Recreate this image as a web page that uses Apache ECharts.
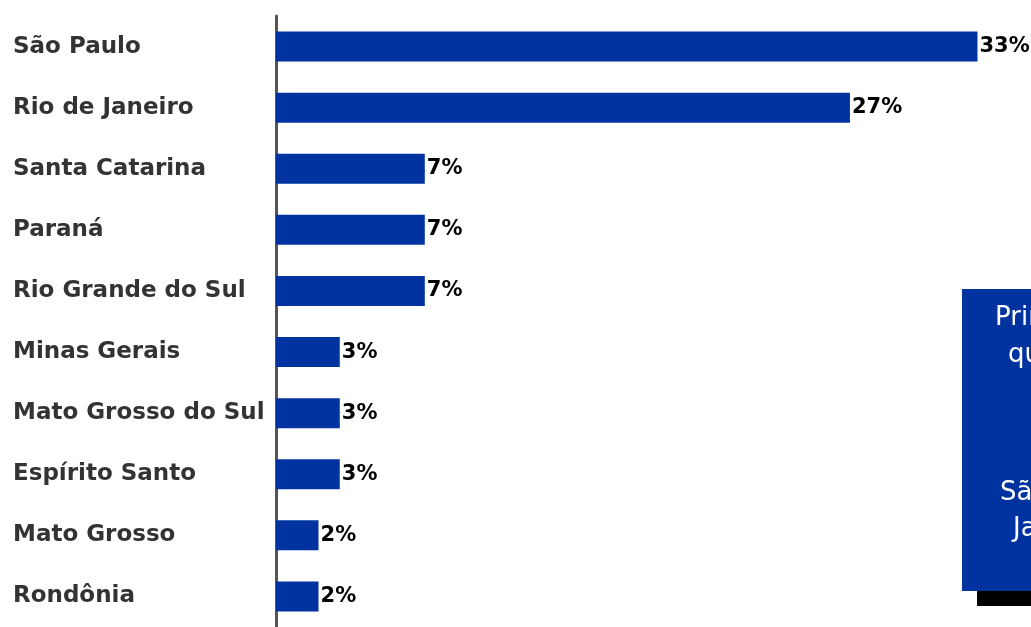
<!DOCTYPE html>
<html>
<head>
<meta charset="utf-8">
<script src="https://cdn.jsdelivr.net/npm/echarts@6/dist/echarts.min.js"></script>
<style>
  html, body { margin: 0; padding: 0; background: #ffffff; }
  #chart { width: 1031px; height: 627px; }
</style>
</head>
<body>
<div id="chart"></div>
<script>
// Share of buyers by state (percent)
const states = [
  'São Paulo', 'Rio de Janeiro', 'Santa Catarina', 'Paraná', 'Rio Grande do Sul',
  'Minas Gerais', 'Mato Grosso do Sul', 'Espírito Santo', 'Mato Grosso', 'Rondônia'
];
const shares = [33, 27, 7, 7, 7, 3, 3, 3, 2, 2];

// Callout text lines on the right-hand panel
const calloutLines = ['Principais estados', 'que mais compram', 'São Paulo e Rio de', 'Janeiro'];
const calloutY = [318, 355, 493, 529];
const calloutX = [995, 1008, 1000, 1013];

const BLUE = '#0033a0';
const LABEL_FONT = '"DejaVu Sans", "Open Sans", sans-serif';

const chart = echarts.init(document.getElementById('chart'), null, { renderer: 'canvas' });

const graphics = [
  { type: 'rect', shape: { x: 977, y: 590, width: 80, height: 16 }, style: { fill: '#000000' }, z: 10 },
  { type: 'rect', shape: { x: 962, y: 289, width: 90, height: 302 }, style: { fill: BLUE }, z: 11 }
];
calloutLines.forEach((t, i) => {
  graphics.push({
    type: 'text', x: calloutX[i], y: calloutY[i], z: 12,
    style: {
      text: t, fill: '#ffffff', fontFamily: '"DejaVu Sans", sans-serif',
      fontSize: 26, fontWeight: 400, align: 'left', verticalAlign: 'middle'
    }
  });
});

chart.setOption({
  animation: false,
  backgroundColor: '#ffffff',
  grid: { left: 276, top: 16, width: 744, height: 619, containLabel: false },
  xAxis: {
    type: 'value', min: 0, max: 35, show: false
  },
  yAxis: {
    type: 'category', data: states, inverse: true,
    axisLine: { show: true, lineStyle: { color: '#555555', width: 3 } },
    axisTick: { show: false },
    axisLabel: {
      align: 'left', margin: 263, color: '#333333',
      fontFamily: LABEL_FONT, fontWeight: 'bold', fontSize: 23
    }
  },
  series: [{
    type: 'bar', data: shares, barWidth: 30,
    itemStyle: { color: BLUE },
    label: {
      show: true, position: 'right', distance: 2,
      formatter: p => p.value + '%',
      color: '#000000', fontFamily: LABEL_FONT, fontWeight: 'bold', fontSize: 21
    }
  }],
  graphic: graphics
});
</script>
</body>
</html>
